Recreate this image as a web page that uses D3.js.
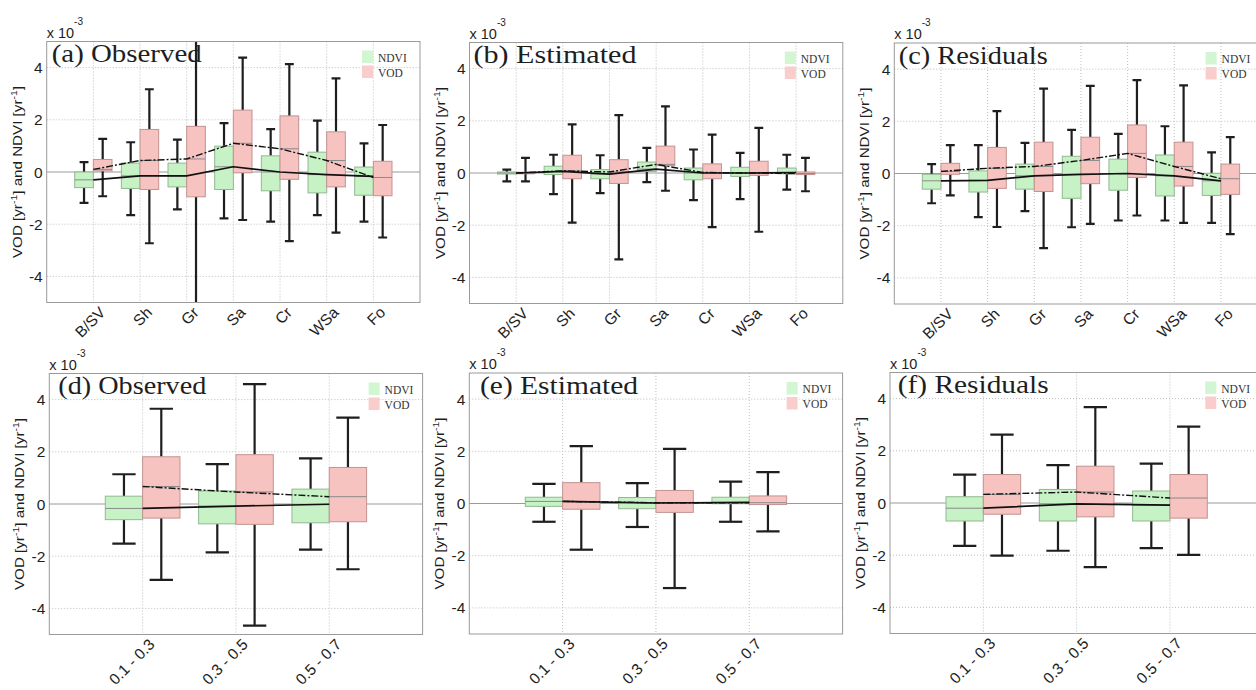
<!DOCTYPE html>
<html>
<head>
<meta charset="utf-8">
<script src="https://cdn.jsdelivr.net/npm/d3@7"></script>
<style>
body { margin: 0; background: #fff; overflow: hidden; }
svg { display: block; }
</style>
</head>
<body>
<div id="chart"></div>
<script>
// box stats per group: [low whisker, q1, median, q3, high whisker], in 1e-3 yr^-1
var landCover = ["B/SV", "Sh", "Gr", "Sa", "Cr", "WSa", "Fo"];
var treeCover = ["0.1 - 0.3", "0.3 - 0.5", "0.5 - 0.7"];
var yTicks = [-4, -2, 0, 2, 4];

var obsNdvi = [[-1.18,-0.6,-0.3,0,0.38],[-1.65,-0.63,-0.15,0.34,1.14],[-1.43,-0.57,-0.15,0.34,1.24],
  [-1.78,-0.67,0.2,0.99,1.87],[-1.9,-0.72,0,0.62,1.64],[-1.65,-0.8,-0.1,0.76,1.97],[-1.9,-0.89,-0.17,0.19,1.1]];
var obsVod = [[-0.93,0.04,0.1,0.48,1.27],[-2.73,-0.67,0.44,1.63,3.17],[-5.5,-0.95,0.5,1.75,5.5],
  [-1.84,-0.03,1.1,2.37,4.38],[-2.65,-0.28,0.89,2.15,4.13],[-2.32,-0.57,0.44,1.54,3.59],[-2.51,-0.91,-0.21,0.41,1.8]];

var estNdvi = [[-0.32,-0.04,0,0.04,0.13],[-0.81,-0.06,0.06,0.26,0.7],[-0.77,-0.22,-0.04,0.13,0.68],
  [-0.35,0.06,0.15,0.42,0.96],[-1.04,-0.26,0,0.19,0.9],[-1,-0.13,0,0.22,0.77],[-0.64,-0.03,0.02,0.19,0.7]];
var estVod = [[-0.32,-0.03,0,0.03,0.58],[-1.9,-0.22,0.08,0.68,1.86],[-3.31,-0.4,0.04,0.51,2.22],
  [-0.68,0.28,0.33,1.03,2.55],[-2.07,-0.22,0.02,0.35,1.47],[-2.25,-0.09,0,0.45,1.73],[-0.7,-0.06,-0.02,0.04,0.58]];

var resNdvi = [[-1.14,-0.6,-0.28,-0.03,0.36],[-1.67,-0.71,-0.26,0.1,1.09],[-1.44,-0.6,-0.09,0.36,1.17],
  [-2.06,-0.95,-0.03,0.66,1.67],[-1.8,-0.64,0,0.55,1.52],[-1.8,-0.86,-0.09,0.71,1.81],[-1.89,-0.84,-0.28,0.01,0.81]];
var resVod = [[-0.84,-0.03,0.08,0.39,1.09],[-2.05,-0.57,0.2,1,2.39],[-2.86,-0.69,0.27,1.2,3.25],
  [-1.93,-0.39,0.5,1.39,3.36],[-1.61,-0.15,0.77,1.86,3.58],[-1.89,-0.48,0.27,1.2,3.38],[-2.32,-0.8,-0.2,0.36,1.39]];

var obsTreeNdvi = [[-1.52,-0.6,-0.17,0.3,1.14],[-1.85,-0.76,-0.08,0.5,1.53],[-1.75,-0.72,-0.01,0.57,1.75]];
var obsTreeVod = [[-2.91,-0.54,0.67,1.81,3.65],[-4.66,-0.78,0.46,1.89,4.59],[-2.5,-0.68,0.28,1.4,3.31]];
var estTreeNdvi = [[-0.7,-0.11,0.08,0.24,0.75],[-0.9,-0.2,0.02,0.23,0.78],[-0.7,-0.01,0.04,0.24,0.84]];
var estTreeVod = [[-1.77,-0.22,0.08,0.8,2.2],[-3.24,-0.34,0.03,0.5,2.09],[-1.07,-0.04,0.03,0.29,1.2]];
var resTreeNdvi = [[-1.64,-0.69,-0.2,0.24,1.09],[-1.83,-0.69,-0.03,0.52,1.45],[-1.73,-0.69,-0.08,0.46,1.51]];
var resTreeVod = [[-2.02,-0.43,0.33,1.09,2.62],[-2.46,-0.53,0.42,1.41,3.67],[-1.99,-0.58,0.19,1.09,2.93]];

var panels = [
  {title:"(a) Observed",  cats:landCover, ndvi:obsNdvi, vod:obsVod, left:46.7,  top:41.5, tdx:5,    tw:150, cap:0.19, lg:58},
  {title:"(b) Estimated", cats:landCover, ndvi:estNdvi, vod:estVod, left:469.5, top:42.5, tdx:4,    tw:163, cap:0.19, lg:58},
  {title:"(c) Residuals", cats:landCover, ndvi:resNdvi, vod:resVod, left:894.3, top:43,   tdx:4.4,  tw:149, cap:0.19, lg:62},
  {title:"(d) Observed",  cats:treeCover, ndvi:obsTreeNdvi, vod:obsTreeVod, left:49.3, top:373.5, tdx:9,  tw:148, cap:0.25, lg:54},
  {title:"(e) Estimated", cats:treeCover, ndvi:estTreeNdvi, vod:estTreeVod, left:469.3, top:373, tdx:10.7, tw:158, cap:0.25, lg:56},
  {title:"(f) Residuals", cats:treeCover, ndvi:resTreeNdvi, vod:resTreeVod, left:890, top:372.5, tdx:7.7, tw:151, cap:0.25, lg:58}
];

var W = 1256, H = 690, pw = 373.3, ph = 261;
var sans = "'Liberation Sans', Arial, sans-serif";
var serif = "'Liberation Serif', 'Times New Roman', serif";
var ndviFill = "#c6f2c6", ndviStroke = "#92b892";
var vodFill = "#f7c3c1", vodStroke = "#c29391";

var svg = d3.select("#chart").append("svg").attr("width", W).attr("height", H);

panels.forEach(function(p, pi) {
  var n = p.cats.length;
  var x = d3.scaleLinear().domain([0, n + 1]).range([p.left, p.left + pw]);
  var y = d3.scaleLinear().domain([-5, 5]).range([p.top + ph, p.top]);
  var bw = 0.4, unit = x(1) - x(0);
  var g = svg.append("g");

  g.append("clipPath").attr("id", "clip" + pi).append("rect")
    .attr("x", p.left).attr("y", p.top).attr("width", pw).attr("height", ph);

  // grid
  g.selectAll(".gy").data(yTicks.filter(function(d){ return d !== 0; })).enter().append("line")
    .attr("x1", p.left).attr("x2", p.left + pw)
    .attr("y1", function(d){ return y(d); }).attr("y2", function(d){ return y(d); })
    .attr("stroke", "#bdbdbd").attr("stroke-dasharray", "1,2");
  g.selectAll(".gx").data(d3.range(1, n + 1)).enter().append("line")
    .attr("x1", function(d){ return x(d); }).attr("x2", function(d){ return x(d); })
    .attr("y1", p.top).attr("y2", p.top + ph)
    .attr("stroke", "#bdbdbd").attr("stroke-dasharray", "1,2");
  g.append("line").attr("x1", p.left).attr("x2", p.left + pw)
    .attr("y1", y(0)).attr("y2", y(0)).attr("stroke", "#9a9a9a");

  var plot = g.append("g").attr("clip-path", "url(#clip" + pi + ")");

  function drawBoxes(stats, off, fill, stroke) {
    var grp = plot.append("g");
    stats.forEach(function(s, i) {
      var x0 = x(i + 1 + off), x1 = x(i + 1 + off + bw), cx = (x0 + x1) / 2;
      var cw = p.cap * unit / 2;
      // whiskers
      grp.append("line").attr("x1", cx).attr("x2", cx).attr("y1", y(s[0])).attr("y2", y(s[1]))
        .attr("stroke", "#1e1e1e").attr("stroke-width", 2.2);
      grp.append("line").attr("x1", cx).attr("x2", cx).attr("y1", y(s[3])).attr("y2", y(s[4]))
        .attr("stroke", "#1e1e1e").attr("stroke-width", 2.2);
      grp.append("line").attr("x1", cx - cw).attr("x2", cx + cw).attr("y1", y(s[0])).attr("y2", y(s[0]))
        .attr("stroke", "#1e1e1e").attr("stroke-width", 2.2);
      grp.append("line").attr("x1", cx - cw).attr("x2", cx + cw).attr("y1", y(s[4])).attr("y2", y(s[4]))
        .attr("stroke", "#1e1e1e").attr("stroke-width", 2.2);
      grp.append("rect").attr("x", x0).attr("width", x1 - x0)
        .attr("y", y(s[3])).attr("height", Math.max(1, y(s[1]) - y(s[3])))
        .attr("fill", fill).attr("stroke", stroke).attr("stroke-width", 1);
      grp.append("line").attr("x1", x0).attr("x2", x1).attr("y1", y(s[2])).attr("y2", y(s[2]))
        .attr("stroke", "#8a8a8a").attr("stroke-width", 1);
    });
  }
  drawBoxes(p.ndvi, -bw, ndviFill, ndviStroke);
  drawBoxes(p.vod, 0, vodFill, vodStroke);

  // median trend lines
  var line = d3.line().x(function(d, i){ return x(i + 1); }).y(function(d){ return y(d[2]); });
  plot.append("path").datum(p.vod).attr("d", line).attr("fill", "none")
    .attr("stroke", "#111").attr("stroke-width", 1.4).attr("stroke-dasharray", "7,2,2,2");
  plot.append("path").datum(p.ndvi).attr("d", line).attr("fill", "none")
    .attr("stroke", "#111").attr("stroke-width", 1.7);

  // frame
  g.append("rect").attr("x", p.left).attr("y", p.top).attr("width", pw).attr("height", ph)
    .attr("fill", "none").attr("stroke", "#9a9a9a");

  // y tick labels
  g.selectAll(".yt").data(yTicks).enter().append("text")
    .attr("x", p.left - 4).attr("y", function(d){ return y(d); }).attr("dy", "0.36em")
    .attr("text-anchor", "end").attr("font-family", sans).attr("font-size", 15.5).attr("fill", "#1e1e1e")
    .text(function(d){ return d; });

  // x tick labels
  g.selectAll(".xt").data(p.cats).enter().append("text")
    .attr("transform", function(d, i){ return "translate(" + (x(i + 1) + 13) + "," + (p.top + ph + 11) + ") rotate(-45)"; })
    .attr("text-anchor", "end").attr("font-family", sans).attr("font-size", 15.5).attr("fill", "#1e1e1e")
    .text(function(d){ return d; });

  // exponent
  var ex = g.append("text").attr("x", p.left).attr("y", p.top - 4)
    .attr("font-family", sans).attr("font-size", 14.5).attr("fill", "#1e1e1e");
  ex.append("tspan").text("x 10");
  ex.append("tspan").attr("dy", -13).attr("font-size", 10).text("-3");

  // y label
  var yl = g.append("text")
    .attr("transform", "translate(" + (p.left - 25) + "," + (p.top + ph / 2) + ") rotate(-90)")
    .attr("text-anchor", "middle").attr("font-family", sans).attr("font-size", 13).attr("fill", "#1e1e1e")
    .attr("textLength", 172).attr("lengthAdjust", "spacingAndGlyphs");
  yl.append("tspan").text("VOD [yr");
  yl.append("tspan").attr("dy", -5).attr("font-size", 9).text("-1");
  yl.append("tspan").attr("dy", 5).text("] and NDVI [yr");
  yl.append("tspan").attr("dy", -5).attr("font-size", 9).text("-1");
  yl.append("tspan").attr("dy", 5).text("]");

  // title
  g.append("text").attr("x", p.left + p.tdx).attr("y", p.top + 20.5)
    .attr("font-family", serif).attr("font-size", 26).attr("fill", "#1e1e1e")
    .attr("textLength", p.tw).attr("lengthAdjust", "spacingAndGlyphs")
    .text(p.title);

  // legend
  var lx = p.left + pw - p.lg;
  var leg = [["NDVI", "#d1f6d1", 9], ["VOD", "#f8cdcb", 24]];
  leg.forEach(function(l) {
    g.append("rect").attr("x", lx).attr("y", p.top + l[2]).attr("width", 11).attr("height", 12.5)
      .attr("fill", l[1]);
    g.append("text").attr("x", lx + 16).attr("y", p.top + l[2] + 11)
      .attr("font-family", serif).attr("font-size", 11.5).attr("fill", "#333").text(l[0]);
  });
});
</script>
</body>
</html>
